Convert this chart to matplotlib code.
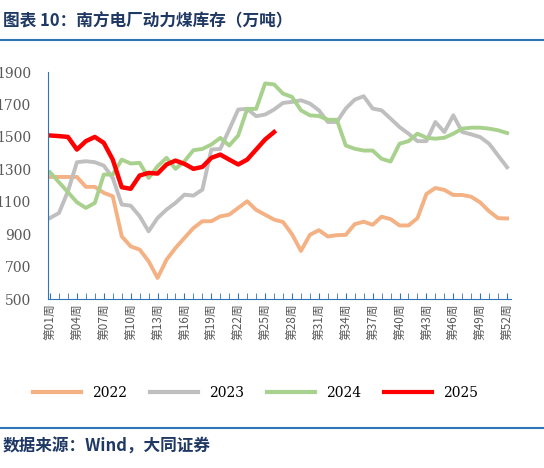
import matplotlib
matplotlib.use("Agg")
import matplotlib.pyplot as plt
from matplotlib.lines import Line2D

plt.rcParams['font.family'] = ['Noto Sans CJK SC', 'DejaVu Sans']

weeks = list(range(1, 53))
y2022 = [1253, 1253, 1253, 1253, 1192, 1192, 1155, 1134, 887, 825, 805, 733, 630,
         743, 815, 877, 938, 980, 980, 1010, 1021, 1062, 1103, 1050, 1020, 990,
         975, 900, 797, 896, 925, 886, 894, 896, 962, 977, 958, 1008, 993, 954,
         954, 999, 1148, 1185, 1173, 1142, 1142, 1131, 1096, 1041, 999, 997]
y2023 = [1000, 1031, 1165, 1344, 1350, 1344, 1323, 1247, 1083, 1076, 1011, 918, 1000,
         1052, 1093, 1144, 1138, 1175, 1422, 1426, 1546, 1669, 1673, 1628, 1638, 1669,
         1710, 1716, 1726, 1706, 1664, 1592, 1592, 1675, 1730, 1751, 1675, 1664, 1613,
         1561, 1520, 1474, 1474, 1592, 1530, 1633, 1530, 1516, 1499, 1458, 1385, 1313]
y2024 = [1282, 1220, 1159, 1097, 1062, 1093, 1268, 1268, 1360, 1336, 1340, 1247, 1319,
         1371, 1303, 1350, 1418, 1426, 1453, 1494, 1447, 1509, 1673, 1673, 1830, 1824,
         1767, 1747, 1664, 1633, 1629, 1606, 1606, 1447, 1427, 1416, 1416, 1365, 1348,
         1458, 1474, 1520, 1495, 1489, 1495, 1520, 1551, 1557, 1557, 1551, 1541, 1524]
y2025 = [1509, 1505, 1500, 1422, 1474, 1500, 1463, 1360, 1190, 1180, 1262, 1278, 1274,
         1330, 1354, 1334, 1303, 1315, 1371, 1391, 1360, 1330, 1360, 1422, 1484, 1530]

series = [("2022", y2022, "#f4b183"), ("2023", y2023, "#bfbfbf"),
          ("2024", y2024, "#a9d18e"), ("2025", y2025, "#ff0000")]
tick_weeks = list(range(1, 53, 3))
tick_labels = [f"第{w:02d}周" for w in tick_weeks]

blue = "#2e75b6"
fig = plt.figure(figsize=(5.44, 4.68), dpi=100)
ax = fig.add_axes([0.0877, 0.361, 0.851, 0.485])
for name, vals, col in series:
    ax.plot(weeks[:len(vals)], vals, color=col, lw=3.2 if name == "2025" else 2.8,
            solid_joinstyle="round")

ax.set_xlim(0.74, 52.4)
ax.set_ylim(500, 1900)
ax.set_yticks(range(500, 1901, 200))
ax.set_xticks(weeks, minor=True)
ax.set_xticks(tick_weeks)
ax.set_xticklabels(tick_labels, rotation=90, fontsize=8.5, color="#595959")
for lab in ax.get_yticklabels():
    lab.set_fontfamily("DejaVu Serif")
ax.tick_params(axis="y", labelsize=10, colors="#595959", length=0, pad=12)
ax.tick_params(axis="x", which="both", direction="in", color=blue, length=4, pad=3)
for s in ["top", "right"]:
    ax.spines[s].set_visible(False)
ax.spines["left"].set_color(blue)
ax.spines["bottom"].set_color(blue)

handles = [Line2D([], [], color=c, lw=3) for _, _, c in series]
fig.legend(handles, [n for n, _, _ in series], loc="center", bbox_to_anchor=(0.47, 0.16),
           ncol=4, frameon=False, handlelength=3.5, columnspacing=1.6,
           prop={"family": "DejaVu Serif", "size": 10})

fig.text(0.005, 0.955, "图表 10：南方电厂动力煤库存（万吨）", fontsize=12, color="#1f3864",
         va="center", fontweight="bold")
fig.add_artist(Line2D([0, 1], [0.915, 0.915], color=blue, lw=1.5))
fig.add_artist(Line2D([0, 1], [0.085, 0.085], color=blue, lw=1.5))
fig.text(0.005, 0.045, "数据来源：Wind，大同证券", fontsize=12, color="#1f3864", va="center",
         fontweight="bold")

fig.savefig("out.png", dpi=100)
